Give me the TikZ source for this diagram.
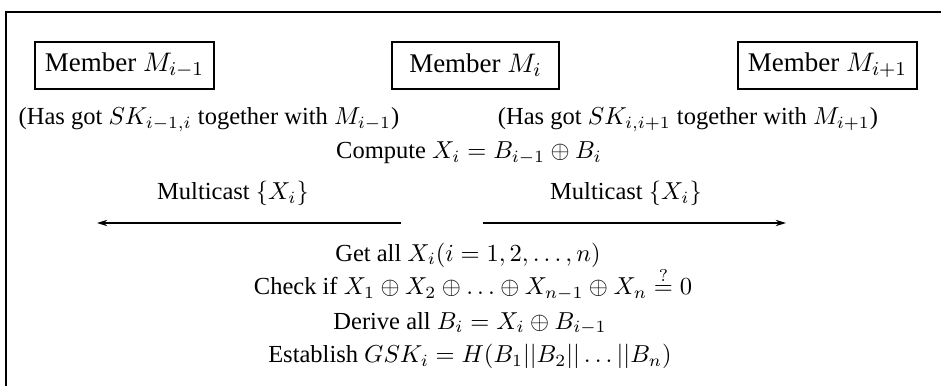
\documentclass[tikz,border=0pt]{standalone}
\usepackage[no-math]{fontspec}
\setmainfont{Liberation Serif}
\usetikzlibrary{arrows.meta}
\begin{document}
\begin{tikzpicture}[x=0.408pt, y=-0.408pt,
  font=\fontsize{10pt}{12pt}\selectfont,
  member/.style={draw, line width=0.8pt, font=\fontsize{11pt}{13pt}\selectfont,
    minimum height=19.2pt, minimum width=68.1pt, inner xsep=3.9pt, anchor=center},
  txt/.style={anchor=base, inner sep=0pt},
  msg/.style={line width=0.55pt, -{Stealth[length=4.2pt, width=2.6pt]}}]
  \useasboundingbox (0,0) rectangle (941,386);
  % frame (open to the right and bottom)
  \draw[line width=0.85pt] (941,12) -- (6,12) -- (6,386);
  % group members
  \node[member] (mprev) at (124.5,65.5) {Member $M_{i-1}$};
  \node[member] (mcur)  at (475.5,65.5) {Member $M_i$};
  \node[member] (mnext) at (827.5,65.5) {Member $M_{i+1}$};
  % shared keys
  \node[txt] (kprev) at (209,125) {(Has got $SK_{i-1,i}$ together with $M_{i-1}$)};
  \node[txt] (knext) at (688,125) {(Has got $SK_{i,i+1}$ together with $M_{i+1}$)};
  \node[txt] (comp)  at (469,159) {Compute $X_i = B_{i-1} \oplus B_i$};
  % multicast messages
  \node[txt] (lmsg) at (233,200) {Multicast $\{X_i\}$};
  \node[txt] (rmsg) at (626,200) {Multicast $\{X_i\}$};
  \coordinate (ls) at (401,223);
  \coordinate (le) at (97,223);
  \coordinate (rs) at (483,223);
  \coordinate (re) at (786,223);
  \draw[msg] (ls) -- (le);
  \draw[msg] (rs) -- (re);
  % key derivation steps
  \node[txt] (get)   at (468,261) {Get all $X_i (i = 1, 2, \ldots, n)$};
  \node[txt] (check) at (473,295) {Check if $X_1 \oplus X_2 \oplus \ldots \oplus X_{n-1} \oplus X_n \stackrel{?}{=} 0$};
  \node[txt] (der)   at (470,329) {Derive all $B_i = X_i \oplus B_{i-1}$};
  \node[txt] (est)   at (470,363) {Establish $GSK_i = H(B_1 || B_2 || \ldots || B_n)$};
\end{tikzpicture}
\end{document}
